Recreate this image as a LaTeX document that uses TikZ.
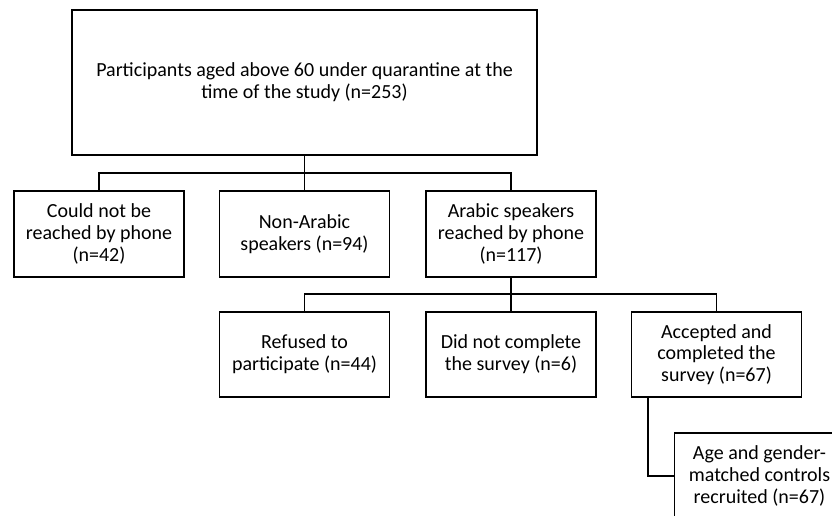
\documentclass[tikz,border=0pt]{standalone}
\usepackage{fontspec}
\setmainfont{Carlito}
\begin{document}
\begin{tikzpicture}[x=1pt,y=-1pt,
  box/.style={draw=black,line width=1.4pt,minimum width=170pt,minimum height=86pt,
    align=center,inner sep=2pt,font=\fontsize{20}{21.7}\selectfont},
  conn/.style={draw=black,line width=1.4pt}]
\useasboundingbox (0,0) rectangle (832,515);
\begin{scope}
\clip (0,0) rectangle (832,515);
\node[box,minimum width=465pt,minimum height=145pt] (top) at (304.5,82.5)
  {Participants aged above 60 under quarantine at the\\time of the study (n=253)};
\node[box] (b1) at (99,234) {Could not be\\reached by phone\\(n=42)};
\node[box] (b2) at (304.5,234) {Non-Arabic\\speakers (n=94)};
\node[box] (b3) at (511,234) {Arabic speakers\\reached by phone\\(n=117)};
\node[box,minimum height=85pt] (c1) at (304.5,354.5) {Refused to\\participate (n=44)};
\node[box,minimum height=85pt] (c2) at (511,354.5) {Did not complete\\the survey (n=6)};
\node[box,minimum height=85pt] (c3) at (716.5,354.5) {Accepted and\\completed the\\survey (n=67)};
\node[box] (d) at (759.5,476) {Age and gender-\\matched controls\\recruited (n=67)};
\coordinate (j1) at (304.5,173);
\coordinate (j2) at (511,294);
\draw[conn] (top.south) -- (j1) -- (b2.north);
\draw[conn] (b1.north) |- (j1) -| (b3.north);
\draw[conn] (b3.south) -- (j2) -- (c2.north);
\draw[conn] (c1.north) |- (j2) -| (c3.north);
\draw[conn] ([xshift=17pt]c3.south west) |- (d.west);
\end{scope}
\end{tikzpicture}
\end{document}
